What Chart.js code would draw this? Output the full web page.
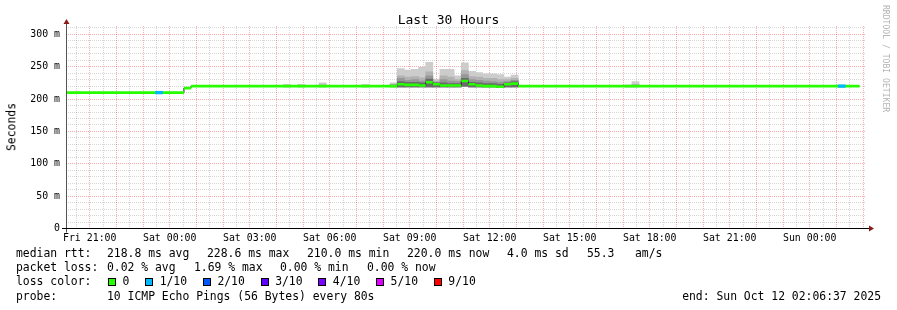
<!DOCTYPE html>
<html><head><meta charset="utf-8">
<title>Last 30 Hours</title>
<script src="https://cdn.jsdelivr.net/npm/chart.js@4.4.1/dist/chart.umd.min.js"></script>
<style>
html,body{margin:0;padding:0;background:#fff;}
#wrap{position:relative;width:897px;height:310px;overflow:hidden;font-family:"DejaVu Sans Mono",monospace;color:#000;}
#c{position:absolute;left:0;top:0;}
.t{position:absolute;white-space:pre;line-height:1;font-size:11.4px;}
#title{position:absolute;left:0;width:897px;top:13px;text-align:center;font-size:13px;line-height:1;white-space:pre;}
#ytitle{position:absolute;left:12px;top:127px;font-size:11.4px;line-height:1;transform:translate(-50%,-50%) rotate(-90deg);white-space:pre;}
#wm{position:absolute;left:882px;top:5px;writing-mode:vertical-rl;font-size:8.1px;color:#b4b4b4;line-height:1;white-space:pre;}
#lossrow{position:absolute;left:108px;top:276px;display:flex;align-items:center;font-size:11.4px;line-height:1;white-space:pre;}
.lc{display:inline-flex;align-items:center;margin-right:15.8px;}
.box{display:inline-block;width:6px;height:6px;border:1px solid #000;margin-right:6.5px;}
</style></head>
<body>
<div id="wrap">
<canvas id="c" width="897" height="310"></canvas>
<div id="title">Last 30 Hours</div>
<div id="ytitle">Seconds</div>
<div id="wm">RRDTOOL / TOBI OETIKER</div>
<div class="t" style="left:16px;top:248px">median rtt:</div>
<div class="t" style="left:107px;top:248px">218.8 ms avg</div>
<div class="t" style="left:207px;top:248px">228.6 ms max</div>
<div class="t" style="left:307px;top:248px">210.0 ms min</div>
<div class="t" style="left:407px;top:248px">220.0 ms now</div>
<div class="t" style="left:507px;top:248px">4.0 ms sd</div>
<div class="t" style="left:587px;top:248px">55.3   am/s</div>
<div class="t" style="left:16px;top:262px">packet loss:</div>
<div class="t" style="left:107px;top:262px">0.02 % avg</div>
<div class="t" style="left:194px;top:262px">1.69 % max</div>
<div class="t" style="left:280px;top:262px">0.00 % min</div>
<div class="t" style="left:367px;top:262px">0.00 % now</div>
<div class="t" style="left:16px;top:276px">loss color:</div>
<div id="lossrow"></div>
<div class="t" style="left:16px;top:290.5px">probe:</div>
<div class="t" style="left:107px;top:290.5px">10 ICMP Echo Pings (56 Bytes) every 80s</div>
<div class="t" style="right:16px;top:290.5px">end: Sun Oct 12 02:06:37 2025</div>
</div>
<script>
// ---------- data ----------
const DAY = {Fri: 0, Sat: 1440, Sun: 2880};
function T(s){ const [d, hm] = s.split(' '); const p = hm.split(':').map(Number); return DAY[d] + p[0]*60 + p[1] + (p[2] || 0)/60; }

const rangeStart = "Fri 20:06:37";
const rangeEnd   = "Sun 02:06:37";
const bucketMinutes = 16;

const xTickLabels = ["Fri 21:00","Sat 00:00","Sat 03:00","Sat 06:00","Sat 09:00","Sat 12:00","Sat 15:00","Sat 18:00","Sat 21:00","Sun 00:00"];
const yTickValues = [0, 50, 100, 150, 200, 250, 300];
const yTickLabels = ["0","50 m","100 m","150 m","200 m","250 m","300 m"];
const yMax = 313;

// median RTT (ms) – value holds from each time until the next
const medianTimes  = ["Fri 20:00","Sat 00:32","Sat 00:48","Sat 08:32","Sat 08:48","Sat 09:20","Sat 09:36","Sat 09:52","Sat 10:08","Sat 10:56","Sat 11:12","Sat 11:28","Sat 11:44","Sat 12:16","Sat 12:32","Sat 12:48","Sat 13:04","Sun 01:52"];
const medianValues = [210, 217, 220, 223, 222, 221, 226, 223, 221, 228, 223, 221, 220, 219, 223, 224, 220, 220];

// buckets with packet loss
const lossStarts = ["Fri 23:28","Sun 01:04"];
const lossLevels = ["1/10","1/10"];

// smoke (ping spread) per 16-minute bucket, ms
const smokeStarts = ["Sat 04:16","Sat 04:48","Sat 05:36","Sat 07:12","Sat 08:16","Sat 08:32","Sat 08:48","Sat 09:04","Sat 09:20","Sat 09:36","Sat 09:52","Sat 10:08","Sat 10:24","Sat 10:40","Sat 10:56","Sat 11:12","Sat 11:28","Sat 11:44","Sat 12:00","Sat 12:16","Sat 12:32","Sat 12:48","Sat 17:04","Sat 17:20"];
const smokeMin = [219,219,219,219,219, 219,219,219,219,219, 219,219,219,219,220, 219,219,219,219,218, 219,219, 219,219];
const smokeMax = [223,223,225,223,225, 247,245,246,249,257, 231,246,246,236,256, 243,241,239,239,238, 234,237, 222,227];
const smokeP80 = [221,221,222,221,223, 236,234,235,233,242, 228,236,234,230,244, 235,234,232,232,230, 230,232, 221,223];
const smokeP65 = [null,null,null,null,222, 232,229,230,228,236, 226,230,228,227,238, 230,229,228,227,226, 227,229, null,null];
const smokeP55 = [null,null,null,null,null, 227,226,226,225,231, 225,225,224,224,232, 226,225,224,224,223, 225,227, null,null];

const lossLegendLabels = ["0","1/10","2/10","3/10","4/10","5/10","9/10"];
const lossLegendColors = ["#26ff00","#00b8ff","#0059ff","#5e00ff","#7e00ff","#dd00ff","#ff0000"];

// ---------- legend row ----------
const row = document.getElementById('lossrow');
lossLegendLabels.forEach((l, i) => {
  const it = document.createElement('span'); it.className = 'lc';
  const b = document.createElement('span'); b.className = 'box'; b.style.background = lossLegendColors[i];
  const tx = document.createElement('span'); tx.textContent = l;
  it.appendChild(b); it.appendChild(tx); row.appendChild(it);
});

// ---------- chart ----------
const xs = T(rangeStart), xe = T(rangeEnd), half = bucketMinutes / 2, BAND = 2;
const xTickVals = xTickLabels.map(T);
function medAt(t){ let v = medianValues[0]; medianTimes.forEach((s, i) => { if (T(s) <= t) v = medianValues[i]; }); return v; }
function lossColor(l){ return lossLegendColors[lossLegendLabels.indexOf(l)]; }
function smokeLayer(top, color, order){
  const data = [];
  smokeStarts.forEach((s, i) => { if (top[i] != null) data.push({x: T(s) + half, y: [smokeMin[i], top[i]]}); });
  return {type: 'bar', data, backgroundColor: color, borderWidth: 0, grouped: false, barPercentage: 1, categoryPercentage: 1, order};
}
const medPts = medianTimes.map((t, i) => ({x: T(t), y: medianValues[i]}));
// horizontal median runs, each drawn as its own segment (no vertical joins)
const runPts = [];
for (let i = 0; i < medianTimes.length - 1; i++) {
  runPts.push({x: T(medianTimes[i]), y: medianValues[i]});
  runPts.push({x: T(medianTimes[i + 1]), y: medianValues[i]});
  runPts.push({x: T(medianTimes[i + 1]), y: null});
}

const majorCol = 'rgba(235,60,60,0.42)';
const minorCol = 'rgba(0,0,0,0.16)';
const FONT = 'DejaVu Sans Mono';

const axesPlugin = {
  id: 'axesArrows',
  afterDraw(chart){
    const {ctx, chartArea: a} = chart;
    const yb = Math.floor(a.bottom) + 0.5, xl = Math.floor(a.left) + 0.5;
    ctx.save();
    ctx.lineWidth = 1;
    ctx.strokeStyle = '#555';
    ctx.beginPath(); ctx.moveTo(xl, a.top - 3); ctx.lineTo(xl, yb + 4); ctx.stroke();
    ctx.strokeStyle = '#000';
    ctx.beginPath(); ctx.moveTo(a.left - 4, yb); ctx.lineTo(a.right + 3, yb); ctx.stroke();
    ctx.fillStyle = '#8b1a1a';
    ctx.beginPath(); ctx.moveTo(xl, a.top - 7); ctx.lineTo(xl - 3, a.top - 2); ctx.lineTo(xl + 3, a.top - 2); ctx.closePath(); ctx.fill();
    ctx.beginPath(); ctx.moveTo(a.right + 8, yb); ctx.lineTo(a.right + 3, yb - 3); ctx.lineTo(a.right + 3, yb + 3); ctx.closePath(); ctx.fill();
    ctx.restore();
  }
};

new Chart(document.getElementById('c'), {
  type: 'line',
  data: {
    datasets: [
      smokeLayer(smokeMax, '#cccccc', 10),
      smokeLayer(smokeP80, '#b2b2b2', 9),
      smokeLayer(smokeP65, '#979797', 8),
      smokeLayer(smokeP55, '#6a6a6a', 7),
      {type: 'line', data: medPts, stepped: 'before', borderColor: '#202020', borderWidth: 1, pointRadius: 0, fill: false, order: 5},
      {type: 'line', data: runPts, spanGaps: false, borderColor: '#26ff00', borderWidth: 2.6, borderCapStyle: 'butt', pointRadius: 0, fill: false, order: 3},
      {type: 'bar', data: lossStarts.map(s => ({x: T(s) + half, y: [medAt(T(s)) - BAND, medAt(T(s)) + BAND]})),
       backgroundColor: lossLevels.map(lossColor), borderWidth: 0, grouped: false, barPercentage: 1, categoryPercentage: 1, order: 1}
    ]
  },
  options: {
    responsive: false, animation: false, devicePixelRatio: 1,
    layout: {padding: {top: 26, right: 31, bottom: 61.5, left: 0}},
    plugins: {legend: {display: false}, tooltip: {enabled: false}, title: {display: false}},
    scales: {
      x: {
        type: 'linear', min: xs, max: xe, offset: false, z: 1,
        grid: {offset: false, drawTicks: false, lineWidth: 1,
               color: c => (c.tick && Math.abs(c.tick.value % 60) < 1e-6) ? majorCol : minorCol},
        border: {display: false, dash: [1, 1]},
        ticks: {autoSkip: false, maxRotation: 0, minRotation: 0, padding: 4, color: '#000',
                font: {family: FONT, size: 9.9},
                callback: v => { const i = xTickVals.findIndex(t => Math.abs(t - v) < 1e-6); return i >= 0 ? xTickLabels[i] : ''; }},
        afterBuildTicks: s => { const t = []; for (let v = Math.ceil(xs / 30) * 30; v <= xe; v += 30) t.push({value: v}); s.ticks = t; },
        afterFit: s => { s.height = 20; }
      },
      y: {
        type: 'linear', min: 0, max: yMax, z: 1,
        grid: {drawTicks: false, lineWidth: 1,
               color: c => (c.tick && c.tick.value % 50 === 0) ? majorCol : minorCol},
        border: {display: false, dash: [1, 1]},
        ticks: {autoSkip: false, padding: 6, color: '#000', font: {family: FONT, size: 9.9},
                callback: v => { const i = yTickValues.indexOf(v); return i >= 0 ? yTickLabels[i] : ''; }},
        afterBuildTicks: s => { const t = []; for (let v = 0; v <= yMax; v += 10) t.push({value: v}); s.ticks = t; },
        afterFit: s => { s.width = 66; }
      }
    }
  },
  plugins: [axesPlugin]
});
</script>
</body></html>
